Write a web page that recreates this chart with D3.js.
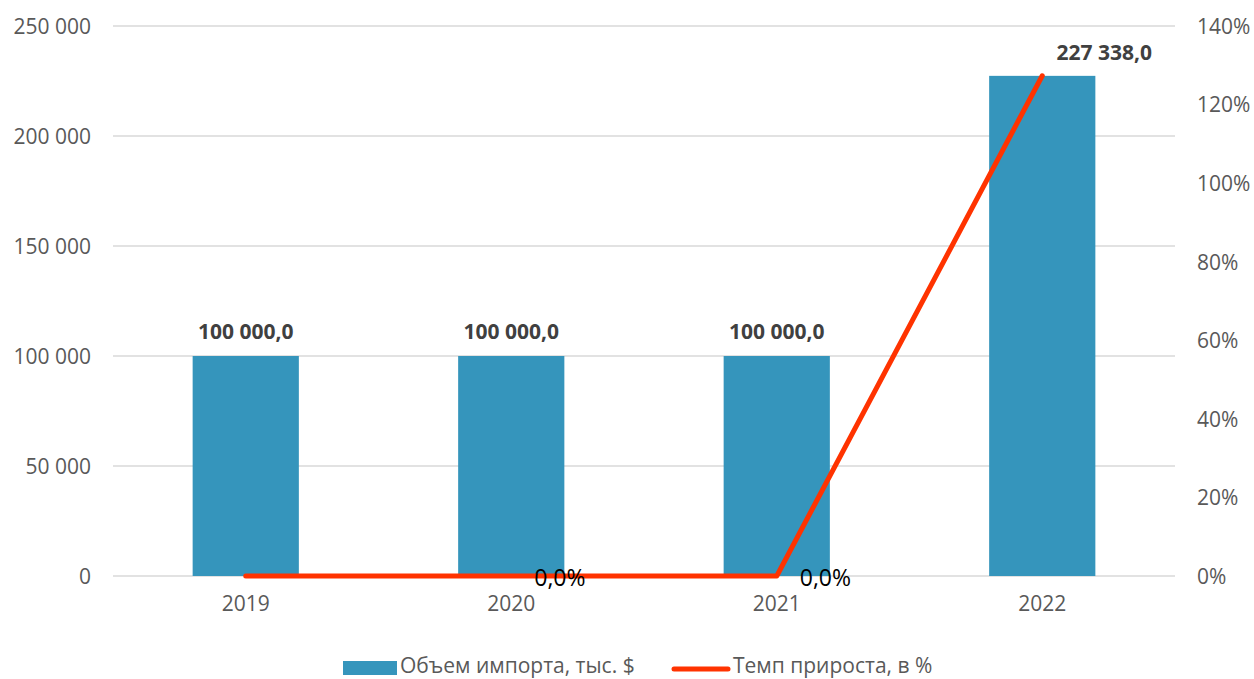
<!DOCTYPE html>
<html>
<head>
<meta charset="utf-8">
<script src="https://cdn.jsdelivr.net/npm/d3@7"></script>
<style>
  body { margin: 0; background: #fff; }
  text { font-family: "Open Sans", "Noto Sans", sans-serif; }
</style>
</head>
<body>
<div id="chart"></div>
<script>
// данные
const years = ["2019", "2020", "2021", "2022"];
const importVolume = [100000, 100000, 100000, 227338];
const growthRate = [0, 0, 0, 1.27338];
const growthLabels = ["", "0,0%", "0,0%", ""];
const leftTicks = [0, 50000, 100000, 150000, 200000, 250000];
const rightTicks = [0, 0.2, 0.4, 0.6, 0.8, 1.0, 1.2, 1.4];

const width = 1254, height = 679;
const m = {left: 113, right: 79, top: 26, bottom: 103};

const svg = d3.select("#chart").append("svg")
    .attr("width", width)
    .attr("height", height);

const x = d3.scaleBand().domain(years)
    .range([m.left, width - m.right])
    .paddingInner(0.6).paddingOuter(0.3);
const yL = d3.scaleLinear().domain([0, 250000]).range([height - m.bottom, m.top]);
const yR = d3.scaleLinear().domain([0, 1.4]).range([height - m.bottom, m.top]);

const spaceFmt = v => d3.format(",")(v).replace(/,/g, " ");
const oneDec = v => d3.format(",.1f")(v).replace(/,/g, " ").replace(".", ",");

// сетка
svg.append("g").selectAll("line").data(leftTicks).enter().append("line")
    .attr("x1", m.left).attr("x2", width - m.right)
    .attr("y1", d => yL(d)).attr("y2", d => yL(d))
    .attr("stroke", "#d9d9d9").attr("stroke-width", 1.3);

// оси
const axL = svg.append("g").attr("transform", "translate(" + (m.left - 22) + ",0)")
    .call(d3.axisLeft(yL).tickValues(leftTicks).tickFormat(spaceFmt).tickSize(0).tickPadding(0));
const axR = svg.append("g").attr("transform", "translate(" + (width - m.right + 22) + ",0)")
    .call(d3.axisRight(yR).tickValues(rightTicks).tickFormat(d3.format(".0%")).tickSize(0).tickPadding(0));
const axB = svg.append("g").attr("transform", "translate(0," + (height - m.bottom + 16) + ")")
    .call(d3.axisBottom(x).tickSize(0).tickPadding(0));
[axL, axR, axB].forEach(a => {
    a.select(".domain").remove();
    a.selectAll("text").attr("fill", "#595959").style("font-size", "21px")
        .style("font-family", "'Open Sans', sans-serif");
});
axL.selectAll("text").attr("dy", "0.35em");
axR.selectAll("text").attr("dy", "0.35em");
axB.selectAll("text").attr("dy", "0.9em");

// столбцы
svg.append("g").selectAll("rect").data(importVolume).enter().append("rect")
    .attr("x", (d, i) => x(years[i]))
    .attr("width", x.bandwidth())
    .attr("y", d => yL(d))
    .attr("height", d => yL(0) - yL(d))
    .attr("fill", "#3595bc");

// подписи столбцов
svg.append("g").selectAll("text").data(importVolume).enter().append("text")
    .attr("x", (d, i) => x(years[i]) + x.bandwidth() / 2 + (i == 3 ? 62 : 0))
    .attr("y", (d, i) => yL(d) - (i == 3 ? 16 : 17))
    .attr("text-anchor", "middle")
    .attr("fill", "#404040")
    .style("font-size", "21px")
    .style("font-weight", "bold")
    .text(d => oneDec(d));

// линия темпа прироста
const line = d3.line()
    .x((d, i) => x(years[i]) + x.bandwidth() / 2)
    .y(d => yR(d));
svg.append("path").datum(growthRate)
    .attr("d", line)
    .attr("fill", "none")
    .attr("stroke", "#ff3300")
    .attr("stroke-width", 5)
    .attr("stroke-linecap", "round")
    .attr("stroke-linejoin", "round");

svg.append("g").selectAll("text").data(growthRate).enter().append("text")
    .attr("x", (d, i) => x(years[i]) + x.bandwidth() / 2 + 23)
    .attr("y", d => yR(d) + 10)
    .attr("fill", "#000")
    .style("font-size", "23px")
    .text((d, i) => growthLabels[i]);

// легенда
const leg = svg.append("g");
leg.append("rect").attr("x", 343).attr("y", 661).attr("width", 54).attr("height", 14).attr("fill", "#3595bc");
leg.append("text").attr("x", 400).attr("y", 673).attr("fill", "#595959").style("font-size", "21px")
    .text("Объем импорта, тыс. $");
leg.append("line").attr("x1", 674).attr("x2", 728).attr("y1", 669).attr("y2", 669)
    .attr("stroke", "#ff3300").attr("stroke-width", 5).attr("stroke-linecap", "round");
leg.append("text").attr("x", 733).attr("y", 673).attr("fill", "#595959").style("font-size", "21px")
    .text("Темп прироста, в %");
</script>
</body>
</html>
